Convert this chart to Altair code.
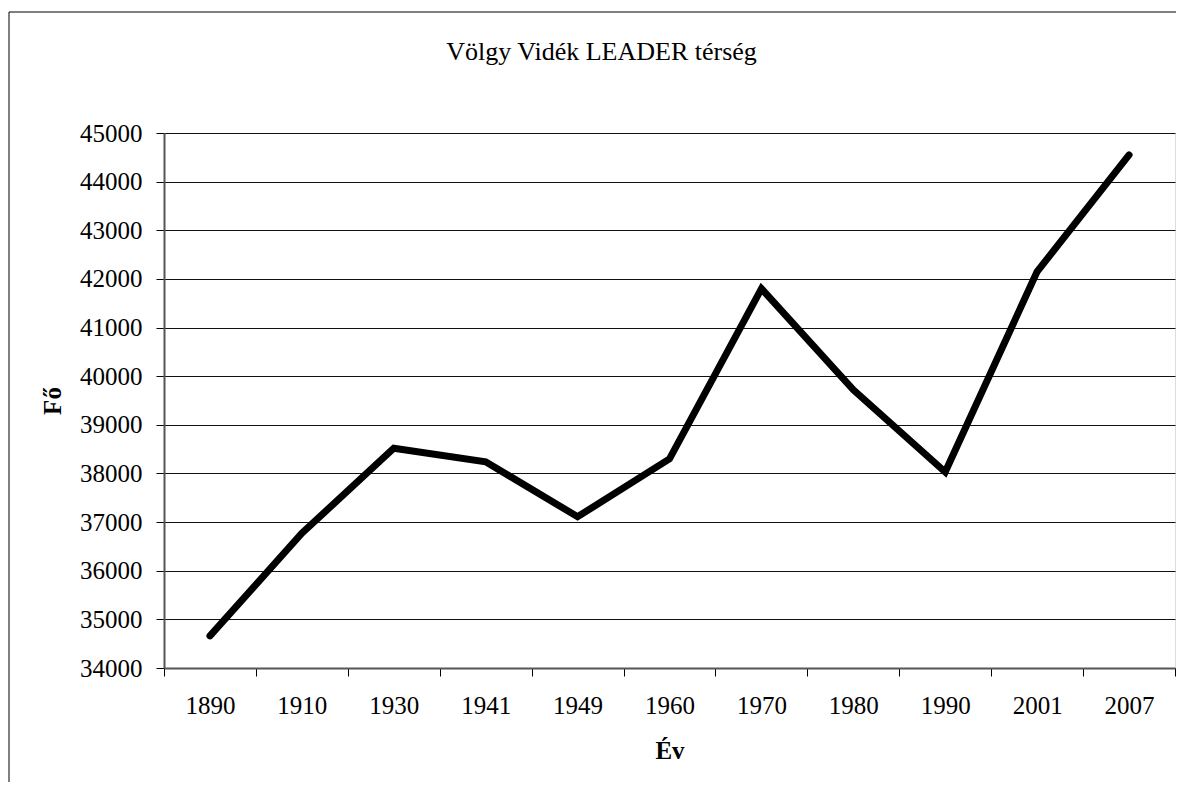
import altair as alt
import pandas as pd

years = ["1890", "1910", "1930", "1941", "1949", "1960", "1970", "1980", "1990", "2001", "2007"]
population = [34660, 36770, 38520, 38240, 37110, 38300, 41800, 39720, 38030, 42150, 44550]
y_ticks = list(range(34000, 45001, 1000))

df = pd.DataFrame({"ev": years, "fo": population})
FONT = "Liberation Serif"
FS = 25

x = alt.X(
    "ev:O",
    sort=years,
    bandPosition=0.5,
    scale=alt.Scale(type="band", paddingInner=0, paddingOuter=0),
    axis=alt.Axis(
        title="Év",
        titleFont=FONT, titleFontSize=FS, titleFontWeight="bold", titleColor="black",
        titlePadding=20,
        labelFont=FONT, labelFontSize=FS, labelColor="black", labelAngle=0,
        labelPadding=17,
        tickBand="extent", tickSize=8, tickColor="black", tickWidth=1,
        domainColor="#555555", domainWidth=2,
        grid=False,
    ),
)
y = alt.Y(
    "fo:Q",
    scale=alt.Scale(domain=[34000, 45000], nice=False, zero=False),
    axis=alt.Axis(
        title="Fő",
        titleFont=FONT, titleFontSize=FS, titleFontWeight="bold", titleColor="black",
        titlePadding=14,
        labelFont=FONT, labelFontSize=FS, labelColor="black",
        labelPadding=14, format="d",
        values=y_ticks,
        tickSize=8, tickColor="black", tickWidth=1,
        domainColor="#555555", domainWidth=2,
        grid=True, gridColor="#111111", gridWidth=1,
    ),
)

line = alt.Chart(df).mark_line(
    color="black", strokeWidth=7, strokeCap="round", strokeJoin="miter"
).encode(x=x, y=y)

frame_data = pd.DataFrame({"a": [0]})
frame_left = alt.Chart(frame_data).mark_rule(color="black", strokeWidth=1).encode(
    x=alt.value(-155), y=alt.value(-121), y2=alt.value(700)
)
frame_top = alt.Chart(frame_data).mark_rule(color="black", strokeWidth=1).encode(
    x=alt.value(-155), x2=alt.value(1100), y=alt.value(-121)
)

chart = alt.layer(frame_left, frame_top, line).properties(
    width=1011,
    height=535,
    title=alt.TitleParams(
        "Völgy Vidék LEADER térség",
        font=FONT, fontSize=26, fontWeight="normal", color="black",
        anchor="middle", dx=-68, offset=0, dy=74, baseline="alphabetic",
    ),
    autosize=alt.AutoSizeParams(type="none"),
    padding={"left": 156, "top": 125, "right": 1, "bottom": 114},
).configure_view(
    stroke="#888888", strokeWidth=2
).configure(background="white")

chart.save("out.html", embed_options={"renderer": "svg", "actions": False})
